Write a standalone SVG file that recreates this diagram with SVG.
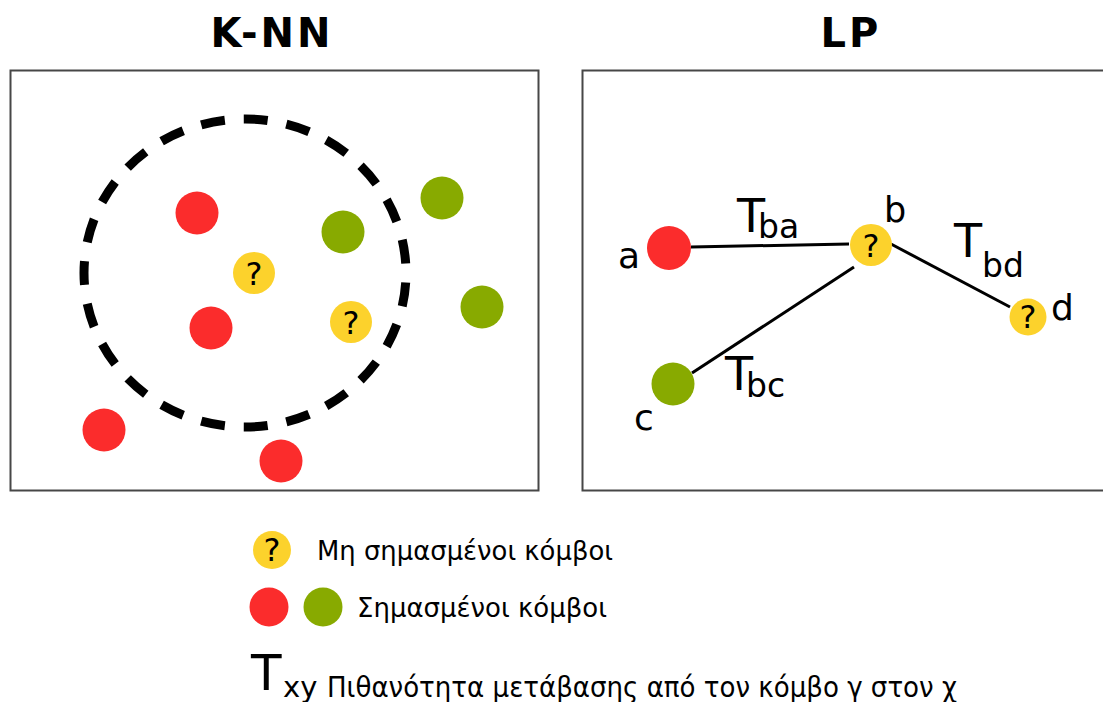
<svg xmlns="http://www.w3.org/2000/svg" width="1103" height="702" viewBox="0 0 1103 702">
  <style>
    .panel { fill: none; stroke: #474747; stroke-width: 2; }
    .title { font-family: "DejaVu Sans", "Liberation Sans", sans-serif; font-weight: bold; font-size: 40px; fill: #000; text-anchor: middle; letter-spacing: 3px; }
    .red { fill: #fb2c2c; }
    .green { fill: #88aa00; }
    .yellow { fill: #fcd22c; }
    .q { font-family: "DejaVu Sans", sans-serif; font-size: 32px; fill: #000; text-anchor: middle; }
    .lbl { font-family: "DejaVu Sans", sans-serif; fill: #000; }
    .edge { stroke: #000; stroke-width: 3; fill: none; }
    .legend { font-family: "DejaVu Sans", "Noto Sans", sans-serif; fill: #000; }
  </style>
  <rect width="1103" height="702" fill="#fff"/>

  <!-- titles -->
  <text class="title" x="272" y="47">K-NN</text>
  <text class="title" x="851" y="47">LP</text>

  <!-- panels -->
  <rect class="panel" x="10.5" y="70.5" width="528" height="420"/>
  <rect class="panel" x="582.5" y="70.5" width="540" height="420"/>

  <!-- K-NN neighbourhood -->
  <g id="knn-radius">
    <ellipse cx="245" cy="273" rx="161" ry="154" fill="none" stroke="#000" stroke-width="9" pathLength="989" stroke-dasharray="24 19" stroke-dashoffset="33.5"/>
  </g>

  <!-- K-NN nodes -->
  <g id="knn-red-1"><circle class="red" cx="197" cy="213" r="21.5"/></g>
  <g id="knn-green-1"><circle class="green" cx="343" cy="232" r="21.5"/></g>
  <g id="knn-green-2"><circle class="green" cx="442" cy="198" r="21.5"/></g>
  <g id="knn-unlabelled-1"><circle class="yellow" cx="254" cy="273" r="21"/><text class="q" x="254" y="285">?</text></g>
  <g id="knn-red-2"><circle class="red" cx="211" cy="328" r="21.5"/></g>
  <g id="knn-unlabelled-2"><circle class="yellow" cx="351" cy="322" r="21"/><text class="q" x="351" y="334">?</text></g>
  <g id="knn-green-3"><circle class="green" cx="482" cy="307" r="21.5"/></g>
  <g id="knn-red-3"><circle class="red" cx="104" cy="430" r="21.5"/></g>
  <g id="knn-red-4"><circle class="red" cx="281" cy="461" r="21.5"/></g>

  <!-- LP connectors with transition labels -->
  <g id="lp-edges">
    <line class="edge" x1="691" y1="247" x2="849" y2="244"/>
    <line class="edge" x1="891" y1="244" x2="1010" y2="307"/>
    <line class="edge" x1="854" y1="267" x2="692" y2="373"/>
    <text class="lbl" x="737" y="232" font-size="46">T<tspan dx="-7" dy="6" font-size="33">ba</tspan></text>
    <text class="lbl" x="954" y="257" font-size="46">T<tspan dx="0" dy="20" font-size="33">bd</tspan></text>
    <text class="lbl" x="725" y="390" font-size="46">T<tspan dx="-7" dy="7" font-size="33">bc</tspan></text>
  </g>

  <!-- LP nodes -->
  <g id="lp-a"><circle class="red" cx="669" cy="248" r="22"/><text class="lbl" x="618" y="268" font-size="36">a</text></g>
  <g id="lp-b"><circle class="yellow" cx="871" cy="245" r="21"/><text class="q" x="871" y="257">?</text><text class="lbl" x="884" y="222" font-size="35">b</text></g>
  <g id="lp-c"><circle class="green" cx="673" cy="384" r="21.5"/><text class="lbl" x="634" y="430" font-size="36">c</text></g>
  <g id="lp-d"><circle class="yellow" cx="1028" cy="317" r="18.5"/><text class="q" x="1028" y="328" font-size="28">?</text><text class="lbl" x="1051" y="320" font-size="36">d</text></g>

  <!-- legend -->
  <g id="legend-unlabelled">
    <circle class="yellow" cx="272" cy="550" r="19"/>
    <text class="q" x="272" y="561" font-size="29">?</text>
    <text class="legend" x="317" y="560" font-size="27" textLength="296" lengthAdjust="spacingAndGlyphs">Μη σημασμένοι κόμβοι</text>
  </g>
  <g id="legend-labelled">
    <circle class="red" cx="269" cy="607" r="19.5"/>
    <circle class="green" cx="323" cy="607" r="19.5"/>
    <text class="legend" x="357" y="617" font-size="27" textLength="250" lengthAdjust="spacingAndGlyphs">Σημασμένοι κόμβοι</text>
  </g>
  <g id="legend-transition">
    <text class="legend" x="251" y="690" font-size="50">T<tspan x="283" y="697" font-size="29">xy</tspan></text>
    <text class="legend" x="327" y="697" font-size="29" textLength="630" lengthAdjust="spacingAndGlyphs">Πιθανότητα μετάβασης από τον κόμβο γ στον χ</text>
  </g>
</svg>
